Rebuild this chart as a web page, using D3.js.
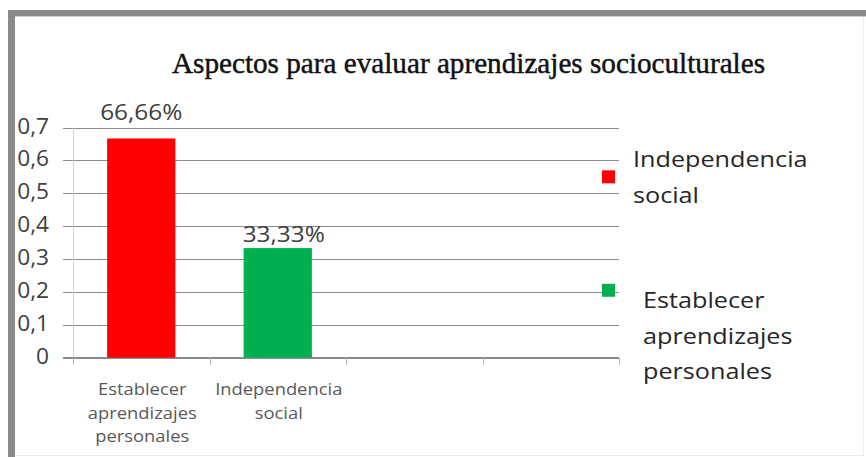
<!DOCTYPE html>
<html>
<head>
<meta charset="utf-8">
<script src="https://cdn.jsdelivr.net/npm/d3@7"></script>
<style>
  html, body { margin: 0; padding: 0; background: #fff; }
  svg { display: block; }
</style>
</head>
<body>
<svg id="chart" width="866" height="457"></svg>
<script>
// ---- data ----
const title = "Aspectos para evaluar aprendizajes socioculturales";
const categories = ["Establecer aprendizajes personales", "Independencia social", "", ""];
const values = [0.6666, 0.3333, null, null];
const valueLabels = ["66,66%", "33,33%", "", ""];
const barColors = ["#ff0000", "#00b050", "#ff0000", "#00b050"];
const yTicks = [0, 0.1, 0.2, 0.3, 0.4, 0.5, 0.6, 0.7];
const legendLabels = ["Independencia social", "Establecer aprendizajes personales"];
const legendColors = ["#ff0000", "#00b050"];

// ---- drawing ----
const svg = d3.select("#chart");
const SANS = "'Open Sans', 'Noto Sans', sans-serif";
const SERIF = "'Liberation Serif', 'DejaVu Serif', serif";

function stretch(sel, k) {
  sel.each(function () {
    const w = this.getComputedTextLength();
    if (w > 0) {
      this.setAttribute("textLength", (w * k).toFixed(1));
      this.setAttribute("lengthAdjust", "spacingAndGlyphs");
    }
  });
}

// frame
svg.append("rect").attr("x", 0).attr("y", 0).attr("width", 866).attr("height", 457).attr("fill", "#fff");
svg.append("line").attr("x1", 863.5).attr("x2", 863.5).attr("y1", 17).attr("y2", 455)
  .attr("stroke", "#ececec").attr("stroke-width", 1);
svg.append("line").attr("x1", 15).attr("x2", 864).attr("y1", 455.5).attr("y2", 455.5)
  .attr("stroke", "#ececec").attr("stroke-width", 1);
svg.append("rect").attr("x", 8).attr("y", 10).attr("width", 858).attr("height", 6).attr("fill", "#8a8a8a");
svg.append("rect").attr("x", 8).attr("y", 10).attr("width", 7).attr("height", 447).attr("fill", "#8a8a8a");
svg.append("line").attr("x1", 15).attr("x2", 866).attr("y1", 16.5).attr("y2", 16.5)
  .attr("stroke", "#d0d0d0").attr("stroke-width", 1);

// scales
const x = d3.scaleBand().domain(d3.range(categories.length)).range([73, 619]).padding(0);
const y = d3.scaleLinear().domain([0, 0.7]).range([357.7, 127.5]);
const locale = d3.formatLocale({ decimal: ",", thousands: ".", grouping: [3], currency: ["", "€"] });
const fmt = v => (v === 0 ? "0" : locale.format(".1f")(v));

// gridlines (y axis)
const yAxis = d3.axisLeft(y).tickValues(yTicks).tickSize(-(619 - 63)).tickFormat("");
const gy = svg.append("g").attr("transform", "translate(63,0)").call(yAxis);
gy.select(".domain").remove();
gy.selectAll(".tick line").attr("stroke", "#8c8c8c").attr("stroke-width", 1)
  .attr("shape-rendering", "crispEdges");

// vertical axis line
svg.append("line").attr("x1", 73.5).attr("x2", 73.5).attr("y1", y(0.7)).attr("y2", y(0))
  .attr("stroke", "#d4d4d4").attr("stroke-width", 1);

// y labels
const yl = svg.append("g").selectAll("text").data(yTicks).join("text")
  .attr("x", 49).attr("y", d => y(d) + 6)
  .attr("text-anchor", "end")
  .attr("font-family", SANS).attr("font-size", 21).attr("fill", "#404040")
  .text(d => fmt(d));
stretch(yl, 1.08);

// x axis (baseline + ticks at band boundaries)
const bounds = d3.range(categories.length + 1).map(i => x.range()[0] + i * x.bandwidth());
svg.append("line").attr("x1", 63).attr("x2", 619).attr("y1", y(0)).attr("y2", y(0))
  .attr("stroke", "#8c8c8c").attr("stroke-width", 1).attr("shape-rendering", "crispEdges");
svg.append("g").selectAll("line").data(bounds).join("line")
  .attr("x1", d => Math.round(d) + 0.5).attr("x2", d => Math.round(d) + 0.5)
  .attr("y1", y(0)).attr("y2", y(0) + 7)
  .attr("stroke", "#b0b0b0").attr("stroke-width", 1);

// bars
const barData = values.map((v, i) => ({ v, i })).filter(d => d.v != null);
svg.append("g").selectAll("rect").data(barData).join("rect")
  .attr("x", d => x(d.i) + x.bandwidth() * 0.25)
  .attr("width", x.bandwidth() * 0.5)
  .attr("y", d => y(d.v))
  .attr("height", d => y(0) - y(d.v))
  .attr("fill", d => barColors[d.i]);

// value labels
const labelLift = [18, 6];
const vl = svg.append("g").selectAll("text").data(barData).join("text")
  .attr("x", d => x(d.i) + x.bandwidth() / 2 + (d.i === 1 ? 6 : 0))
  .attr("y", d => y(d.v) - labelLift[d.i])
  .attr("text-anchor", "middle")
  .attr("font-family", SANS).attr("font-size", 21).attr("fill", "#404040")
  .text(d => valueLabels[d.i]);
stretch(vl, 1.16);

// category labels
const catG = svg.append("g");
categories.forEach((c, i) => {
  if (!c) return;
  const lines = i === 0 ? ["Establecer", "aprendizajes", "personales"] : ["Independencia", "social"];
  const t = catG.selectAll(null).data(lines).join("text")
    .attr("x", x(i) + x.bandwidth() / 2 + 1)
    .attr("y", (d, j) => 395 + j * 23.5)
    .attr("text-anchor", "middle")
    .attr("font-family", SANS).attr("font-size", 16.4).attr("fill", "#595959")
    .text(d => d);
  stretch(t, 1.12);
});

// title
svg.append("text")
  .attr("x", 468.5).attr("y", 73)
  .attr("text-anchor", "middle")
  .attr("font-family", SERIF).attr("font-size", 29).attr("fill", "#111")
  .attr("stroke", "#111").attr("stroke-width", 0.45)
  .attr("textLength", 593).attr("lengthAdjust", "spacingAndGlyphs")
  .text(title);

// legend
const legendPos = [
  { sq: y(0.55), tx: 633, ty: 167, lines: ["Independencia", "social"] },
  { sq: y(0.205), tx: 643, ty: 308, lines: ["Establecer", "aprendizajes", "personales"] }
];
legendLabels.forEach((lab, i) => {
  const p = legendPos[i];
  svg.append("rect").attr("x", 602).attr("y", p.sq - 6.5).attr("width", 13).attr("height", 13)
    .attr("fill", legendColors[i]);
  const t = svg.append("g").selectAll("text").data(p.lines).join("text")
    .attr("x", p.tx).attr("y", (d, j) => p.ty + j * 35.5)
    .attr("font-family", SANS).attr("font-size", 21).attr("fill", "#262626")
    .text(d => d);
  stretch(t, 1.2);
});
</script>
</body>
</html>
